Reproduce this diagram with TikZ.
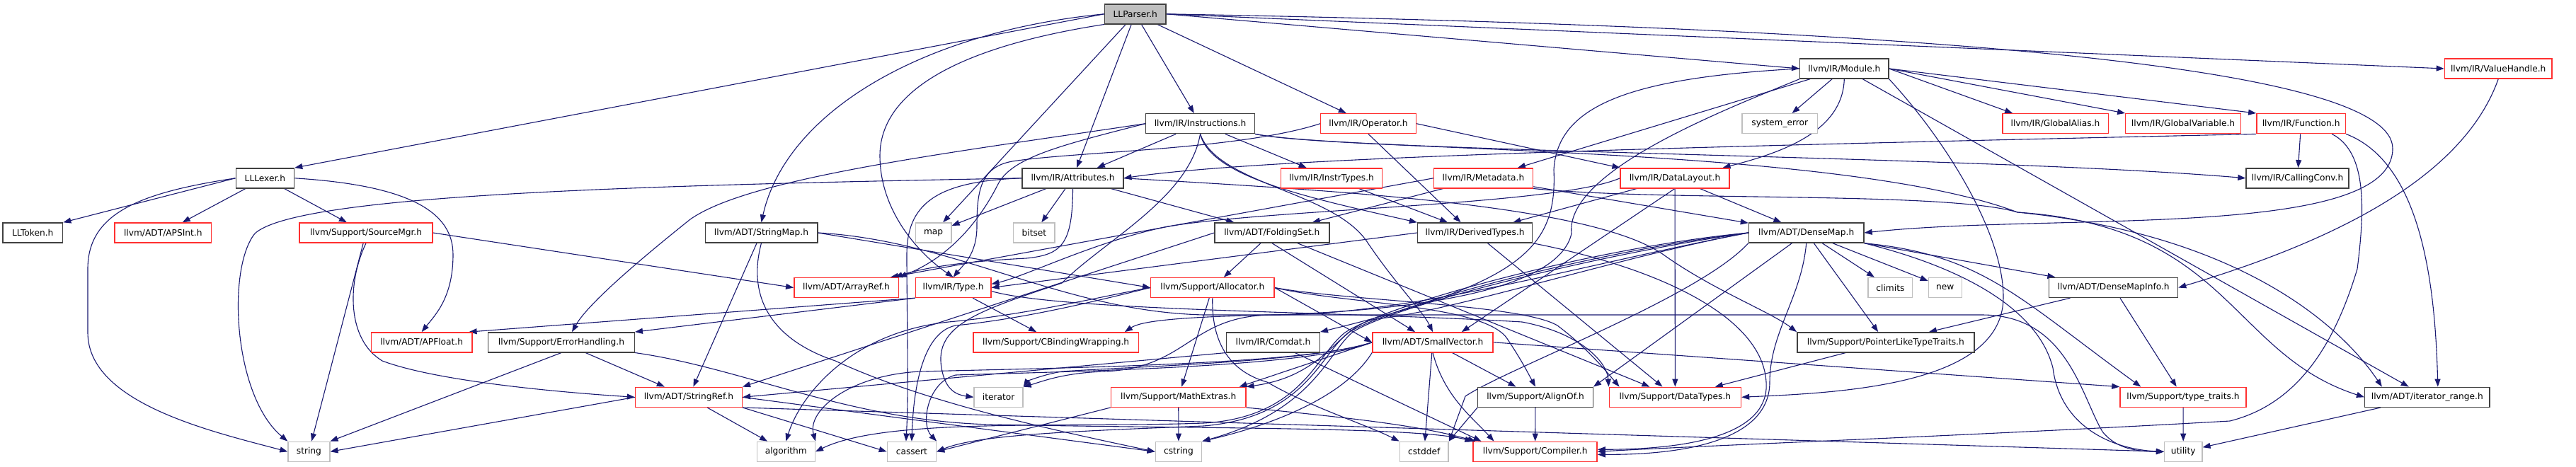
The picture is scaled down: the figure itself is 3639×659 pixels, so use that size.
\documentclass[tikz,border=0pt]{standalone}
\usepackage{fontspec}
\setmainfont{DejaVu Sans}
\usetikzlibrary{arrows.meta,backgrounds}
\definecolor{edgec}{HTML}{191970}
\definecolor{bblack}{HTML}{404040}
\definecolor{bgray}{HTML}{BFBFBF}
\definecolor{bred}{HTML}{FF3030}
\tikzset{
  box/.style={rectangle, minimum height=28pt, inner sep=0pt, line width=1.4pt,
    font=\fontsize{12.2}{14}\selectfont, text=black, fill=white},
  nblack/.style={box, draw=bblack},
  nred/.style={box, draw=bred},
  ngray/.style={box, draw=bgray},
  nroot/.style={box, draw=bblack, fill=bgray},
  dep/.style={draw=edgec, line width=1.1pt, -{Triangle[length=11pt,width=8pt]}},
}
\begin{document}
\begin{tikzpicture}[x=1pt,y=-1pt]
\useasboundingbox (0,0) rectangle (3639,659);
% rows 0-2
\node[nroot, minimum width=86.7pt] (parser) at (1603.8,19.8) {LLParser.h};
\node[nblack, minimum width=125.2pt] (module) at (2605.3,97) {llvm/IR/Module.h};
\node[nred, minimum width=151.7pt] (vhandle) at (3529.2,97) {llvm/IR/ValueHandle.h};
\node[nblack, minimum width=153.6pt] (instr) at (1695.5,174.7) {llvm/IR/Instructions.h};
\node[nred, minimum width=134.5pt] (operator) at (1933,174.7) {llvm/IR/Operator.h};
\node[ngray, minimum width=106.6pt] (syserr) at (2514.3,174.7) {system\_error};
\node[nred, minimum width=149.4pt] (galias) at (2903.5,174.7) {llvm/IR/GlobalAlias.h};
\node[nred, minimum width=162.5pt] (gvar) at (3084,174.7) {llvm/IR/GlobalVariable.h};
\node[nred, minimum width=125.6pt] (func) at (3250.6,174.7) {llvm/IR/Function.h};
% row 3
\node[nblack, minimum width=82.4pt] (lexer) at (374.4,251.8) {LLLexer.h};
\node[nblack, minimum width=142.7pt] (attr) at (1515.5,251.8) {llvm/IR/Attributes.h};
\node[nred, minimum width=142.7pt] (instrtypes) at (1881,251.8) {llvm/IR/InstrTypes.h};
\node[nred, minimum width=140pt] (metadata) at (2095.5,251.8) {llvm/IR/Metadata.h};
\node[nred, minimum width=153.7pt] (datalayout) at (2366,251.8) {llvm/IR/DataLayout.h};
\node[nblack, minimum width=145pt] (callconv) at (3245.5,251.8) {llvm/IR/CallingConv.h};
% row 4
\node[nblack, minimum width=84.7pt] (token) at (46.3,329) {LLToken.h};
\node[nred, minimum width=136.6pt] (apsint) at (230.3,329) {llvm/ADT/APSInt.h};
\node[nred, minimum width=188pt] (srcmgr) at (517,329) {llvm/Support/SourceMgr.h};
\node[nblack, minimum width=158.6pt] (strmap) at (1075.5,329) {llvm/ADT/StringMap.h};
\node[ngray, minimum width=50.6pt] (map) at (1318.6,329) {map};
\node[ngray, minimum width=58.3pt] (bitset) at (1460.9,329) {bitset};
\node[nblack, minimum width=161.8pt] (folding) at (1796.9,329) {llvm/ADT/FoldingSet.h};
\node[nblack, minimum width=162.1pt] (derived) at (2083.6,329) {llvm/IR/DerivedTypes.h};
\node[nblack, minimum width=162.5pt] (densemap) at (2551.7,329) {llvm/ADT/DenseMap.h};
% row 5
\node[nred, minimum width=147.4pt] (arrayref) at (1195.5,406.5) {llvm/ADT/ArrayRef.h};
\node[nred, minimum width=106.5pt] (type) at (1346.6,406.5) {llvm/IR/Type.h};
\node[nred, minimum width=174.2pt] (alloc) at (1712.8,406.5) {llvm/Support/Allocator.h};
\node[ngray, minimum width=62.6pt] (climits) at (2670.4,406.5) {climits};
\node[ngray, minimum width=47pt] (new) at (2747.8,406.5) {new};
\node[nblack, minimum width=182pt] (dmi) at (2985.6,406.5) {llvm/ADT/DenseMapInfo.h};
% row 6
\node[nred, minimum width=142.4pt] (apfloat) at (595.7,483.8) {llvm/ADT/APFloat.h};
\node[nblack, minimum width=206.5pt] (errh) at (793,483.8) {llvm/Support/ErrorHandling.h};
\node[nred, minimum width=233.2pt] (cbind) at (1491.6,483.8) {llvm/Support/CBindingWrapping.h};
\node[nblack, minimum width=131.5pt] (comdat) at (1798.5,483.8) {llvm/IR/Comdat.h};
\node[nred, minimum width=170.3pt] (smallvec) at (2024,483.8) {llvm/ADT/SmallVector.h};
\node[nblack, minimum width=250pt] (plt) at (2663.8,483.8) {llvm/Support/PointerLikeTypeTraits.h};
% row 7
\node[nred, minimum width=150.9pt] (strref) at (972.9,561.3) {llvm/ADT/StringRef.h};
\node[ngray, minimum width=68.9pt] (iterator) at (1410.6,561.3) {iterator};
\node[nred, minimum width=190.5pt] (mathex) at (1664.7,561.3) {llvm/Support/MathExtras.h};
\node[nblack, minimum width=162.5pt] (alignof) at (2169,561.3) {llvm/Support/AlignOf.h};
\node[nred, minimum width=186.3pt] (datatypes) at (2366.4,561.3) {llvm/Support/DataTypes.h};
\node[nred, minimum width=178.1pt] (typetraits) at (3084,561.3) {llvm/Support/type\_traits.h};
\node[nblack, minimum width=176.5pt] (itrange) at (3428.8,561.3) {llvm/ADT/iterator\_range.h};
% row 8
\node[ngray, minimum width=58.8pt] (string) at (436.4,638.3) {string};
\node[ngray, minimum width=82pt] (algorithm) at (1110.3,638.3) {algorithm};
\node[ngray, minimum width=69.2pt] (cassert) at (1287.9,638.3) {cassert};
\node[ngray, minimum width=65.4pt] (cstring) at (1665,638.3) {cstring};
\node[ngray, minimum width=68.8pt] (cstddef) at (2011.7,638.3) {cstddef};
\node[nred, minimum width=174.9pt] (compiler) at (2168.6,638.3) {llvm/Support/Compiler.h};
\node[ngray, minimum width=53.3pt] (utility) at (3084.2,638.3) {utility};

\begin{pgfonlayer}{background}
% LLParser.h
\draw[dep] (parser.west) -- (lexer.north east);
\draw[dep] (parser.west) .. controls (1300,45) and (1110,160) .. (strmap.north);
\draw[dep] (parser.south west) .. controls (1330,70) and (1243,140) .. (1243,220) .. controls (1243,300) and (1300,360) .. (type.north);
\draw[dep] (parser) -- (map);
\draw[dep] (parser) -- (attr);
\draw[dep] (parser) -- (instr);
\draw[dep] (parser) -- (operator);
\draw[dep] (parser.east) -- (module.west);
\draw[dep] (parser.east) -- (vhandle.west);
\draw[dep] (parser.east) .. controls (2800,40) and (3380,100) .. (3380,210) .. controls (3380,340) and (2900,300) .. (densemap.east);
% LLLexer.h
\draw[dep] (lexer.west) -- (token.north east);
\draw[dep] (lexer) -- (apsint);
\draw[dep] (lexer) -- (srcmgr);
\draw[dep] (lexer.east) .. controls (580,262) and (640,300) .. (640,360) .. controls (640,420) and (615,445) .. (apfloat.north);
\draw[dep] (lexer.west) .. controls (200,272) and (124,300) .. (124,380) -- (124,470) .. controls (124,570) and (300,610) .. (string.west);
% SourceMgr
\draw[dep] (srcmgr.east) -- (arrayref.west);
\draw[dep] (srcmgr.south) .. controls (490,400) and (490,480) .. (540,510) .. controls (620,540) and (800,555) .. (strref.west);
\draw[dep] (srcmgr) -- (string);
% StringMap
\draw[dep] (strmap) -- (strref);
\draw[dep] (strmap.east) -- (alloc.west);
\draw[dep] (strmap.south) .. controls (1055,420) and (1090,480) .. (1180,510) .. controls (1300,565) and (1450,600) .. (cstring.west);
\draw[dep] (strmap.east) .. controls (1350,340) and (1500,440) .. (1700,445) -- (2800,445) .. controls (2920,445) and (2940,560) .. (2970,610) .. controls (2990,635) and (3020,638) .. (utility.west);
% Module
\draw[dep] (module) -- (itrange);
\draw[dep] (module.west) .. controls (2300,110) and (2200,150) .. (2195,240) .. controls (2200,350) and (2150,400) .. (comdat.north east);
\draw[dep] (module.south) .. controls (2603,185) and (2520,215) .. ([xshift=-10pt]datalayout.north east);
\draw[dep] (module.east) -- (func.north west);
\draw[dep] (module.east) -- ([xshift=15pt]galias.north west);
\draw[dep] (module.east) -- (gvar.north west);
\draw[dep] (module) -- (metadata);
\draw[dep] (module.south west) .. controls (2450,150) and (2210,240) .. (2220,330) .. controls (2200,420) and (1950,440) .. (1800,445) .. controls (1650,448) and (1610,455) .. ([xshift=-20pt]cbind.north east);
\draw[dep] (module.south east) .. controls (2750,200) and (2830,330) .. (2830,420) .. controls (2830,545) and (2600,555) .. (datatypes.east);
\draw[dep] (module) -- (syserr);
% ValueHandle
\draw[dep] (vhandle.south) .. controls (3480,250) and (3300,340) .. (dmi.east);
% Instructions
\draw[dep] (instr.west) .. controls (1500,205) and (1430,222) .. (1410,260) .. controls (1390,300) and (1350,360) .. (arrayref.north east);
\draw[dep] (instr.south east) .. controls (1900,215) and (2600,205) .. (2850,300) .. controls (3150,320) and (3150,500) .. (itrange.west);
\draw[dep] (instr.south) .. controls (1720,260) and (1880,270) .. (1930,340) .. controls (1970,400) and (2010,440) .. (smallvec.north);
\draw[dep] (instr) -- (attr);
\draw[dep] (instr.south east) .. controls (1900,215) and (2800,220) .. (callconv.west);
\draw[dep] (instr.south) .. controls (1710,250) and (1850,280) .. (derived.north west);
\draw[dep] (instr) -- (instrtypes);
\draw[dep] (instr.west) .. controls (1350,215) and (1060,250) .. (975,310) .. controls (900,370) and (830,430) .. ([xshift=15pt]errh.north);
\draw[dep] (instr.south) .. controls (1680,280) and (1560,340) .. (1500,400) .. controls (1380,440) and (1320,460) .. (1330,520) .. controls (1335,550) and (1350,558) .. (iterator.west);
% Operator
\draw[dep] (operator.east) -- (datalayout.north west);
\draw[dep] (operator.south) -- ([xshift=-20pt]derived.north);
\draw[dep] (operator.west) .. controls (1750,212) and (1520,214) .. (1430,228) .. controls (1385,236) and (1380,270) .. (1380,320) .. controls (1380,360) and (1360,375) .. (type.north);
% Function
\draw[dep] (func.south west) .. controls (2500,205) and (1800,220) .. (attr.east);
\draw[dep] (func) -- (callconv);
\draw[dep] ([xshift=-20pt]func.south east) .. controls (3345,215) and (3340,300) .. (3330,380) .. controls (3300,480) and (3250,570) .. (3150,595) .. controls (2800,615) and (2400,630) .. (compiler.east);
\draw[dep] (func.south east) .. controls (3420,230) and (3440,400) .. ([xshift=15pt]itrange.north);
% Attributes
\draw[dep] (attr.south) .. controls (1515,345) and (1500,360) .. (1450,365) .. controls (1350,370) and (1300,380) .. ([xshift=-6pt]arrayref.north east);
\draw[dep] (attr) -- (folding);
\draw[dep] (attr.east) .. controls (1900,270) and (2250,290) .. (2350,360) .. controls (2420,410) and (2500,440) .. (plt.north west);
\draw[dep] (attr) -- (bitset);
\draw[dep] (attr.west) .. controls (1320,256) and (1281,290) .. (1281,360) .. controls (1281,450) and (1284,550) .. ([xshift=-8pt]cassert.north);
\draw[dep] (attr) -- (map);
\draw[dep] (attr.west) .. controls (900,262) and (420,275) .. (360,330) .. controls (320,380) and (330,560) .. (string.north west);
% InstrTypes
\draw[dep] (instrtypes) -- (derived);
% Metadata
\draw[dep] (metadata.west) -- ([xshift=-12pt]arrayref.north east);
\draw[dep] (metadata) -- (densemap);
\draw[dep] (metadata) -- (folding);
\draw[dep] (metadata.south east) .. controls (2350,285) and (2750,270) .. (2850,300) .. controls (3150,330) and (3300,450) .. ([xshift=25pt]itrange.north west);
% DataLayout
\draw[dep] (datalayout) -- (densemap);
\draw[dep] (datalayout.south) -- ([xshift=-45pt]smallvec.north east);
\draw[dep] (datalayout) -- (derived);
\draw[dep] (datalayout.west) .. controls (2200,290) and (1800,295) .. (1650,320) .. controls (1550,340) and (1450,390) .. ([yshift=5pt]type.east);
\draw[dep] (datalayout) -- (datatypes);
% FoldingSet
\draw[dep] (folding) -- (alloc);
\draw[dep] (folding.south) -- ([xshift=-25pt]smallvec.north);
\draw[dep] (folding) -- (datatypes);
\draw[dep] (folding.west) -- (strref.north east);
% DerivedTypes
\draw[dep] (derived.west) -- (type.east);
\draw[dep] (derived.south east) .. controls (2350,380) and (2490,450) .. (2495,540) .. controls (2500,610) and (2400,635) .. ([yshift=3pt]compiler.east);
\draw[dep] (derived) -- (datatypes);
% DenseMap
\draw[dep] (densemap) -- (dmi);
\draw[dep] (densemap) -- (alignof.north east);
\draw[dep] (densemap.south) .. controls (2545,420) and (2500,470) .. (2500,540) .. controls (2500,615) and (2400,643) .. ([yshift=-4pt]compiler.east);
\draw[dep] (densemap.west) .. controls (2300,360) and (2050,440) .. (1950,450) .. controls (1890,455) and (1880,530) .. (mathex.north east);
\draw[dep] (densemap) -- (plt);
\draw[dep] (densemap.south east) .. controls (2800,360) and (2850,420) .. ([xshift=30pt]typetraits.north west);
\draw[dep] (densemap.west) .. controls (2250,350) and (1960,430) .. (1900,470) .. controls (1860,500) and (1840,590) .. (1700,598) .. controls (1500,605) and (1250,590) .. (algorithm.east);
\draw[dep] (densemap.west) .. controls (2250,355) and (1965,432) .. (1905,470) .. controls (1865,500) and (1845,590) .. (1700,602) .. controls (1500,610) and (1380,615) .. (cassert.east);
\draw[dep] (densemap) -- (climits);
\draw[dep] (densemap.south west) .. controls (2400,420) and (2130,520) .. (2070,560) -- (cstddef.north east);
\draw[dep] (densemap.west) .. controls (2250,360) and (1960,435) .. (1910,470) .. controls (1875,500) and (1855,580) .. (cstring.north east);
\draw[dep] (densemap.west) .. controls (2250,370) and (2000,445) .. (1800,445) .. controls (1680,445) and (1680,520) .. (1560,525) .. controls (1500,527) and (1470,540) .. (iterator.north east);
\draw[dep] (densemap) -- (new);
\draw[dep] (densemap.south east) .. controls (2780,380) and (2880,440) .. (2900,520) .. controls (2910,600) and (2980,635) .. (utility.west);
% Type
\draw[dep] (type.south west) -- ([xshift=-5pt]apfloat.north east);
\draw[dep] (type) -- (cbind);
\draw[dep] ([yshift=-5pt]type.east) .. controls (1500,440) and (1900,440) .. (2150,455) .. controls (2230,470) and (2270,510) .. (datatypes.north west);
\draw[dep] (type.south west) -- (errh.north east);
% Allocator
\draw[dep] (alloc.east) -- (smallvec.west);
\draw[dep] (alloc.east) .. controls (1900,430) and (2100,430) .. (2130,480) .. controls (2150,510) and (2160,530) .. (alignof.north);
\draw[dep] (alloc.east) .. controls (1900,425) and (2150,430) .. (2200,460) .. controls (2240,490) and (2265,520) .. ([xshift=15pt]datatypes.north west);
\draw[dep] (alloc) -- (mathex);
\draw[dep] (alloc.west) .. controls (1550,420) and (1450,445) .. (1340,455) .. controls (1200,470) and (1130,560) .. (algorithm.north);
\draw[dep] (alloc.west) .. controls (1550,425) and (1450,450) .. (1350,460) .. controls (1300,470) and (1290,560) .. (cassert.north);
\draw[dep] (alloc.south) .. controls (1712,460) and (1720,520) .. (1790,540) .. controls (1850,575) and (1930,600) .. (cstddef.north west);
% ErrorHandling
\draw[dep] (errh) -- (strref);
\draw[dep] (errh.south east) .. controls (1050,520) and (1200,595) .. (1400,600) .. controls (1700,606) and (2000,603) .. (compiler.north west);
\draw[dep] (errh.south) -- (string.north east);
% Comdat
\draw[dep] (comdat.south west) -- (strref.east);
\draw[dep] (comdat) -- ([xshift=12pt]compiler.north west);
% SmallVector
\draw[dep] (smallvec) -- (alignof);
\draw[dep] (smallvec.south) .. controls (2040,560) and (2080,590) .. ([xshift=30pt]compiler.north west);
\draw[dep] (smallvec.west) -- ([xshift=-10pt]mathex.north east);
\draw[dep] (smallvec.east) -- (typetraits.north west);
\draw[dep] (smallvec.west) .. controls (1850,515) and (1500,520) .. (1300,525) .. controls (1200,530) and (1140,580) .. (algorithm.north east);
\draw[dep] (smallvec.west) .. controls (1850,520) and (1500,525) .. (1350,530) .. controls (1310,540) and (1300,600) .. (cassert.north east);
\draw[dep] (smallvec) -- (cstddef);
\draw[dep] (smallvec.south west) .. controls (1900,560) and (1800,600) .. (cstring.north east);
\draw[dep] (smallvec.west) .. controls (1850,512) and (1600,518) .. (1500,525) .. controls (1470,530) and (1450,540) .. (iterator.north east);
% others
\draw[dep] (plt) -- (datatypes);
\draw[dep] (dmi) -- (plt);
\draw[dep] (dmi) -- (typetraits);
\draw[dep] (strref) -- (algorithm);
\draw[dep] (strref.south east) -- (cassert.west);
\draw[dep] (strref.east) -- (cstring.west);
\draw[dep] (strref.west) -- (string.east);
\draw[dep] (strref.south east) -- (utility.west);
\draw[dep] (mathex.south east) .. controls (1900,590) and (2000,600) .. ([xshift=4pt]compiler.north west);
\draw[dep] (mathex.south west) -- (cassert.east);
\draw[dep] (mathex) -- (cstring);
\draw[dep] (alignof) -- (compiler);
\draw[dep] (alignof.south west) -- (cstddef.north east);
\draw[dep] (typetraits) -- (utility);
\draw[dep] (itrange) -- (utility);
\end{pgfonlayer}
\end{tikzpicture}
\end{document}
